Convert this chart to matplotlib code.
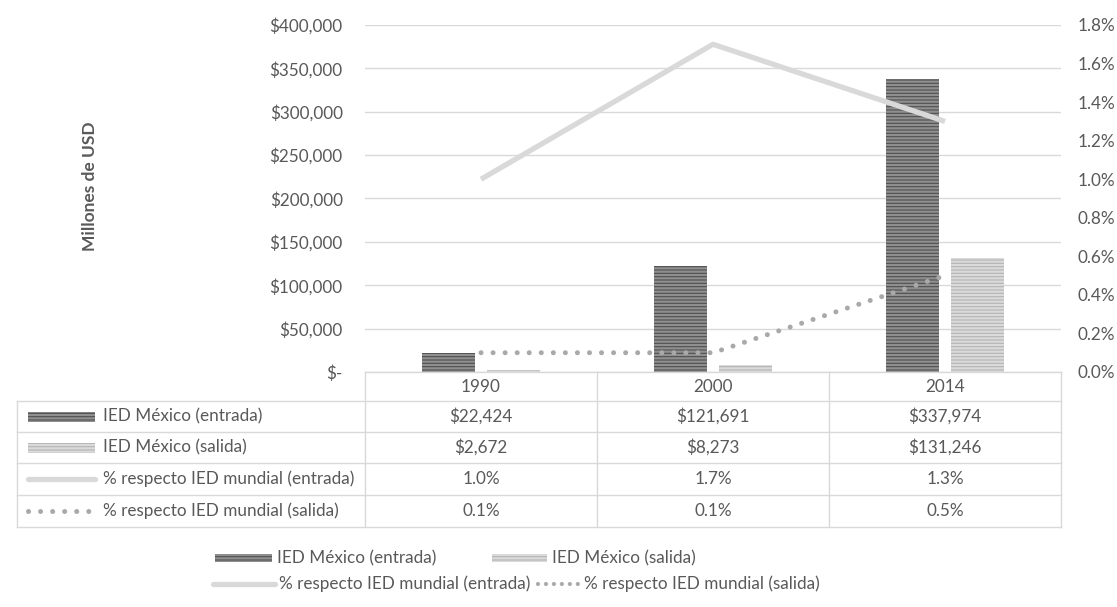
import matplotlib
matplotlib.use("Agg")
import matplotlib.pyplot as plt
from matplotlib.lines import Line2D
from matplotlib.patches import Rectangle
import numpy as np

# Data
years = ["1990", "2000", "2014"]
ied_entrada = [22424, 121691, 337974]      # millones de USD
ied_salida = [2672, 8273, 131246]          # millones de USD
pct_entrada = [1.0, 1.7, 1.3]              # % respecto IED mundial
pct_salida = [0.1, 0.1, 0.5]               # % respecto IED mundial

series_labels = [
    "IED México (entrada)",
    "IED México (salida)",
    "% respecto IED mundial (entrada)",
    "% respecto IED mundial (salida)",
]
usd_ticks = [0, 50000, 100000, 150000, 200000, 250000, 300000, 350000, 400000]
pct_ticks = [0.0, 0.2, 0.4, 0.6, 0.8, 1.0, 1.2, 1.4, 1.6, 1.8]
y_label = "Millones de USD"

# Styling
TEXT = "#595959"
GRID = "#d9d9d9"
BAR_IN_FACE, BAR_IN_STRIPE = "#505050", "#8f8f8f"
BAR_OUT_FACE, BAR_OUT_STRIPE = "#b4b4b4", "#dadada"
LINE_IN = "#d9d9d9"
LINE_OUT = "#a9a9a9"
FS = 12.3

plt.rcParams["font.family"] = ["Lato", "DejaVu Sans"]
plt.rcParams["hatch.linewidth"] = 1.6

W, H = 1117, 607
fig = plt.figure(figsize=(W / 100, H / 100), dpi=100)


def fx(px):
    return px / W


def fy(py):
    return 1 - py / H


# Plot area in pixel coordinates
L, R, T, B = 365, 1061, 25, 372
ax = fig.add_axes([fx(L), fy(B), (R - L) / W, (B - T) / H])
ax2 = ax.twinx()

x = np.arange(len(years))
bw = 0.228
off = 0.142
ax.bar(x - off, ied_entrada, width=bw, facecolor=BAR_IN_FACE,
       edgecolor=BAR_IN_STRIPE, hatch="-----", linewidth=0, zorder=3)
ax.bar(x + off, ied_salida, width=bw, facecolor=BAR_OUT_FACE,
       edgecolor=BAR_OUT_STRIPE, hatch="-----", linewidth=0, zorder=3)

ax.set_xlim(-0.5, len(years) - 0.5)
ax.set_ylim(0, 400000)
ax.set_yticks(usd_ticks)
ax.set_yticklabels(["$-" if v == 0 else f"${v:,.0f}" for v in usd_ticks])
ax.set_xticks([])
ax.yaxis.grid(True, color=GRID, linewidth=1.0, zorder=0)
ax.set_axisbelow(True)
ax.tick_params(axis="y", length=0, pad=16, labelsize=FS, labelcolor=TEXT)

ax2.plot(x, pct_entrada, color=LINE_IN, linewidth=3.8,
         solid_capstyle="butt", zorder=4)
ax2.plot(x, pct_salida, color=LINE_OUT, linewidth=3.6,
         linestyle=(0, (0.01, 2.4)), dash_capstyle="round", zorder=4)
ax2.set_ylim(0, 1.8)
ax2.set_yticks(pct_ticks)
ax2.set_yticklabels([f"{v:.1f}%" for v in pct_ticks])
ax2.tick_params(axis="y", length=0, pad=12, labelsize=FS, labelcolor=TEXT)

for a in (ax, ax2):
    for s in a.spines.values():
        s.set_visible(False)

fig.text(fx(90), fy(186), y_label, rotation=90, ha="center", va="center",
         fontsize=12.5, fontweight="bold", color=TEXT)

# Data table under the chart
cols = [L + i * (R - L) / len(years) for i in range(len(years) + 1)]
row_edges = [401, 432, 463, 495, 527]
TL = 17


def hline(y, x0, x1):
    fig.add_artist(Line2D([fx(x0), fx(x1)], [fy(y), fy(y)], color=GRID,
                          linewidth=1.0, transform=fig.transFigure))


def vline(xp, y0, y1):
    fig.add_artist(Line2D([fx(xp), fx(xp)], [fy(y0), fy(y1)], color=GRID,
                          linewidth=1.0, transform=fig.transFigure))


hline(B, L, R)
for yy in row_edges:
    hline(yy, TL, R)
vline(TL, row_edges[0], row_edges[-1])
for cx in cols:
    vline(cx, B, row_edges[-1])

centers = [(cols[i] + cols[i + 1]) / 2 for i in range(len(years))]
for cx, yr in zip(centers, years):
    fig.text(fx(cx), fy((B + row_edges[0]) / 2), yr, ha="center",
             va="center", fontsize=FS, color=TEXT)

table_rows = [
    [f"${v:,.0f}" for v in ied_entrada],
    [f"${v:,.0f}" for v in ied_salida],
    [f"{v:.1f}%" for v in pct_entrada],
    [f"{v:.1f}%" for v in pct_salida],
]


def bar_key(x0, x1, yc, h, face, stripe):
    fig.add_artist(Rectangle((fx(x0), fy(yc + h / 2)), (x1 - x0) / W, h / H,
                             facecolor=face, edgecolor=stripe, hatch="-----",
                             linewidth=0, transform=fig.transFigure))


def line_key(x0, x1, yc, kind, dot_lw=3.6, dot_gap=2.4):
    if kind == "solid":
        art = Line2D([fx(x0), fx(x1)], [fy(yc), fy(yc)], color=LINE_IN,
                     linewidth=3.8, solid_capstyle="round",
                     transform=fig.transFigure)
    else:
        art = Line2D([fx(x0), fx(x1)], [fy(yc), fy(yc)], color=LINE_OUT,
                     linewidth=dot_lw, linestyle=(0, (0.01, dot_gap)),
                     dash_capstyle="round", transform=fig.transFigure)
    fig.add_artist(art)


def draw_key(i, x0, x1, yc, h, **kw):
    if i == 0:
        bar_key(x0, x1, yc, h, BAR_IN_FACE, BAR_IN_STRIPE)
    elif i == 1:
        bar_key(x0, x1, yc, h, BAR_OUT_FACE, BAR_OUT_STRIPE)
    elif i == 2:
        line_key(x0, x1, yc, "solid")
    else:
        line_key(x0, x1, yc, "dots", **kw)


for i, (label, vals) in enumerate(zip(series_labels, table_rows)):
    yc = (row_edges[i] + row_edges[i + 1]) / 2
    draw_key(i, 28, 95, yc, 10)
    fig.text(fx(103), fy(yc), label, ha="left", va="center",
             fontsize=FS, color=TEXT)
    for cx, v in zip(centers, vals):
        fig.text(fx(cx), fy(yc), v, ha="center", va="center",
                 fontsize=FS, color=TEXT)

# Legend below the table: first row two bar keys, second row two line keys
renderer = fig.canvas.get_renderer()

draw_key(0, 215, 272, 558, 8)
fig.text(fx(277), fy(558), series_labels[0], ha="left", va="center",
         fontsize=FS, color=TEXT)
draw_key(1, 492, 547, 558, 8)
fig.text(fx(552), fy(558), series_labels[1], ha="left", va="center",
         fontsize=FS, color=TEXT)

draw_key(2, 213, 275, 584, 8)
t2 = fig.text(fx(279), fy(584), series_labels[2], ha="left", va="center",
              fontsize=FS, color=TEXT)
end2 = t2.get_window_extent(renderer).x1
draw_key(3, end2 + 8, end2 + 48, 584, 8, dot_lw=3.0, dot_gap=1.9)
fig.text(fx(end2 + 54), fy(584), series_labels[3], ha="left", va="center",
         fontsize=FS, color=TEXT)

fig.savefig("out.png", dpi=100)
